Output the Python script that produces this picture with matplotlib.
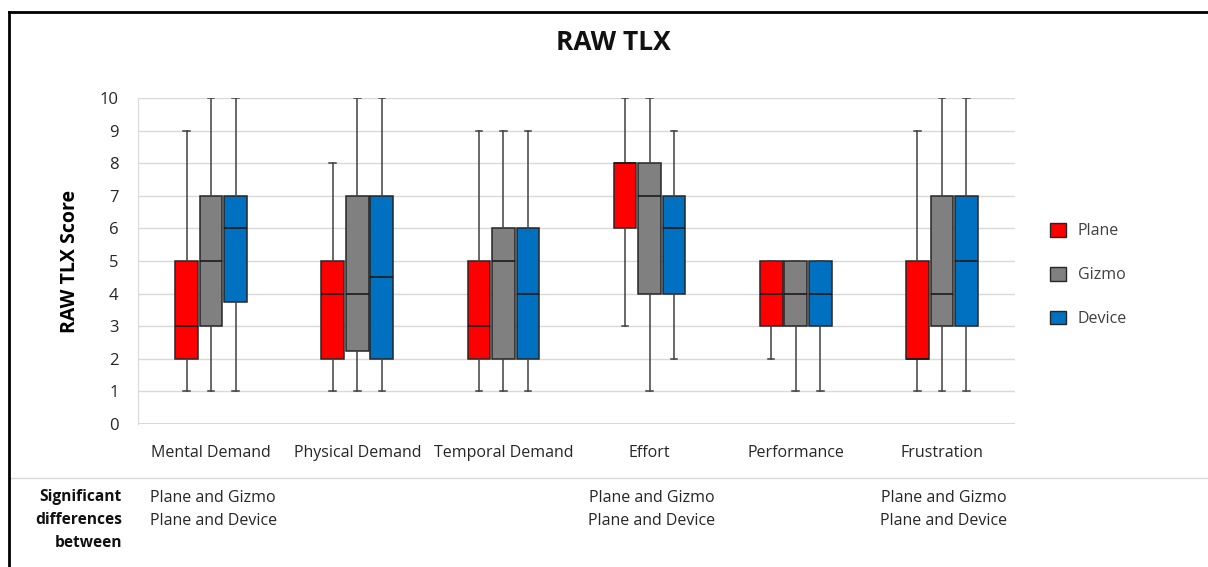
import matplotlib
matplotlib.use("Agg")
import matplotlib.pyplot as plt
from matplotlib.patches import Patch
from matplotlib.lines import Line2D

plt.rcParams['font.family'] = ['Open Sans', 'DejaVu Sans']

categories = ["Mental Demand", "Physical Demand", "Temporal Demand",
              "Effort", "Performance", "Frustration"]
groups = ["Plane", "Gizmo", "Device"]
colors = ["#ff0000", "#808080", "#0070c0"]

# five-number summaries per group: (min, q1, median, q3, max), one per category
plane_stats = [(1, 2, 3, 5, 9), (1, 2, 4, 5, 8), (1, 2, 3, 5, 9),
               (3, 6, 8, 8, 10), (2, 3, 4, 5, 5), (1, 2, 2, 5, 9)]
gizmo_stats = [(1, 3, 5, 7, 10), (1, 2.25, 4, 7, 10), (1, 2, 5, 6, 9),
               (1, 4, 7, 8, 10), (1, 3, 4, 5, 5), (1, 3, 4, 7, 10)]
device_stats = [(1, 3.75, 6, 7, 10), (1, 2, 4.5, 7, 10), (1, 2, 4, 6, 9),
                (2, 4, 6, 7, 9), (1, 3, 4, 5, 5), (1, 3, 5, 7, 10)]

significance = ["Plane and Gizmo\nPlane and Device", "", "",
                "Plane and Gizmo\nPlane and Device", "",
                "Plane and Gizmo\nPlane and Device"]
y_ticks = list(range(0, 11))

W, H = 1208, 567
fig = plt.figure(figsize=(W / 100, H / 100), dpi=100)
ax = fig.add_axes([138 / W, 1 - 424 / H, (1015 - 138) / W, (424 - 98) / H])

grid_c = "#d9d9d9"
ax.set_ylim(0, 10)
ax.set_xlim(-0.5, len(categories) - 0.5)
ax.set_yticks(y_ticks)
ax.yaxis.grid(True, color=grid_c, lw=1)
ax.set_axisbelow(True)
for s in ["top", "right", "bottom"]:
    ax.spines[s].set_visible(False)
ax.spines["left"].set_color(grid_c)
ax.axhline(0, color=grid_c, lw=1.5, zorder=0)
ax.tick_params(axis="both", length=0, labelsize=12, colors="#262626")
ax.tick_params(axis="y", pad=14)
ax.tick_params(axis="x", pad=15, labelsize=11.5)
ax.set_xticks(range(len(categories)))
ax.set_xticklabels(categories)

width = 0.155
offset = 0.168
for gi, (stats, col) in enumerate(zip([plane_stats, gizmo_stats, device_stats], colors)):
    bstats = []
    for (lo, q1, med, q3, hi) in stats:
        bstats.append(dict(whislo=lo, q1=q1, med=med, q3=q3, whishi=hi, fliers=[]))
    pos = [i + (gi - 1) * offset for i in range(len(categories))]
    ax.bxp(bstats, positions=pos, widths=width, patch_artist=True,
           showfliers=False, manage_ticks=False,
           boxprops=dict(facecolor=col, edgecolor="#262626", lw=1.1),
           medianprops=dict(color="#1a1a1a", lw=1.2),
           whiskerprops=dict(color="#404040", lw=1.1),
           capprops=dict(color="#404040", lw=1.1),
           capwidths=0.045)

ax.set_ylabel("RAW TLX Score", fontsize=14, fontweight="bold", labelpad=14)

fig.text(613 / W, 1 - 42 / H, "RAW TLX", ha="center", va="center",
         fontsize=19, fontweight="bold", color="#111111")

handles = [Patch(facecolor=c, edgecolor="#262626", lw=1) for c in colors]
leg = fig.legend(handles, groups, loc="center left",
                 bbox_to_anchor=(1036 / W, 1 - 275 / H), frameon=False,
                 fontsize=11.5, handlelength=0.95, handleheight=0.95,
                 labelspacing=1.72, handletextpad=0.75)
for t in leg.get_texts():
    t.set_color("#404040")

# significance table below the chart
fig.add_artist(Line2D([10 / W, 1], [1 - 478 / H] * 2, color=grid_c, lw=1))
fig.text(122 / W, 1 - 520 / H, "Significant\ndifferences\nbetween",
         ha="right", va="center", fontsize=11.2, fontweight="bold",
         linespacing=1.6, color="#111111")
for i, txt in enumerate(significance):
    if txt:
        xd = ax.transData.transform((i, 0))[0]
        fig.text(xd / W + 2 / W, 1 - 509.5 / H, txt, ha="center", va="center",
                 fontsize=11.5, linespacing=1.55, color="#262626",
                 transform=fig.transFigure)

# outer frame edges
fig.add_artist(Line2D([9 / W, 1], [1 - 12 / H] * 2, color="black", lw=2))
fig.add_artist(Line2D([9 / W, 9 / W], [0, 1 - 12 / H], color="black", lw=2))

fig.savefig("out.png", dpi=100)
